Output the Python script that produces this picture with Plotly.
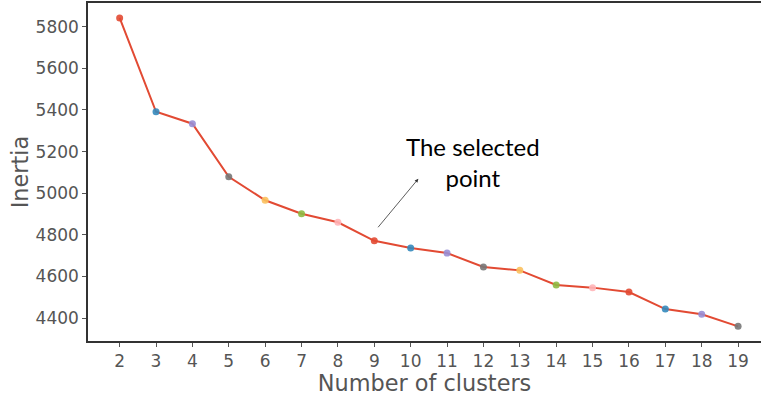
import plotly.graph_objects as go

clusters = list(range(2, 20))
inertia = [5842, 5391, 5334, 5079, 4966, 4901, 4860, 4771, 4736, 4712,
           4645, 4629, 4559, 4546, 4525, 4443, 4418, 4360]
palette = ['#E24A33', '#348ABD', '#988ED5', '#777777', '#FBC15E', '#8EBA42', '#FFB5B8']
point_colors = [palette[i % len(palette)] for i in range(len(clusters))]

y_ticks = [4400, 4600, 4800, 5000, 5200, 5400, 5600, 5800]
annot_text = "The selected<br>point"

fig = go.Figure()
fig.add_trace(go.Scatter(x=clusters, y=inertia, mode="lines",
                         line=dict(color="#E24A33", width=2), showlegend=False,
                         hoverinfo="skip"))
fig.add_trace(go.Scatter(x=clusters, y=inertia, mode="markers",
                         marker=dict(color=point_colors, size=7, opacity=0.9,
                                     line=dict(width=0)),
                         showlegend=False))

fig.add_annotation(x=10.21, y=5069, ax=9.07, ay=4829, xref="x", yref="y",
                   axref="x", ayref="y", text="", showarrow=True,
                   arrowhead=2, arrowsize=0.9, arrowwidth=0.8, arrowcolor="#333333")
fig.add_annotation(x=11.71, y=5150, xref="x", yref="y", text=annot_text,
                   showarrow=False, xanchor="center", yanchor="middle",
                   font=dict(family="Lato", size=24, color="#000000"))

axis_common = dict(showgrid=False, zeroline=False, showline=True,
                   linecolor="#333333", linewidth=1.5, ticks="outside",
                   ticklen=4, tickcolor="#555555", tickwidth=1,
                   tickfont=dict(family="DejaVu Sans", size=17, color="#555555"))

fig.update_xaxes(range=[1.13, 19.63], tickmode="array", tickvals=clusters,
                 ticktext=[str(c) for c in clusters], mirror=True,
                 title=dict(text="Number of clusters", standoff=3,
                            font=dict(family="DejaVu Sans", size=22.4, color="#555555")),
                 **axis_common)
fig.update_yaxes(range=[4289.5, 5914], tickmode="array", tickvals=y_ticks,
                 ticktext=[str(v) for v in y_ticks], mirror=False,
                 title=dict(text="Inertia", standoff=1,
                            font=dict(family="DejaVu Sans", size=22.4, color="#555555")),
                 **axis_common)

fig.update_layout(width=761, height=396, margin=dict(l=88, r=0, t=3, b=55),
                  plot_bgcolor="white", paper_bgcolor="white")

fig.write_html("out.html")
